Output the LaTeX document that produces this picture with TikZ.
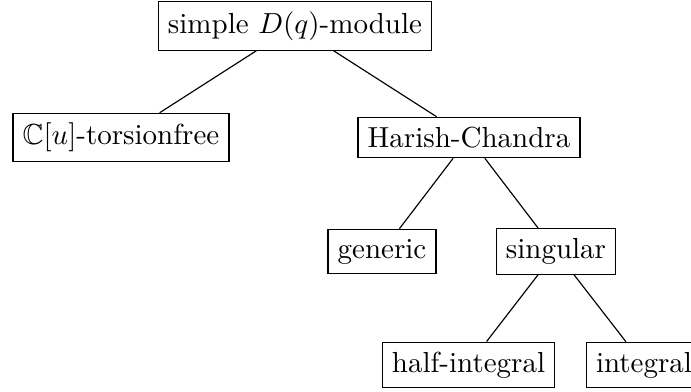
\documentclass[tikz,border=0pt]{standalone}
\usepackage{amsfonts}
\begin{document}
\begin{tikzpicture}[x=0.34483pt,y=-0.34483pt,
  box/.style={draw,rectangle,inner sep=0.3333em}]
\useasboundingbox (0,0) rectangle (691,391);
\node[box] (root) at (295,26) {simple $D(q)$-module};
\node[box] (cu) at (121,137.5) {$\mathbb{C}[u]$-torsionfree};
\node[box] (hc) at (469,137.5) {Harish-Chandra};
\node[box] (gen) at (382,251.5) {generic};
\node[box] (sing) at (556,251.5) {singular};
\node[box] (half) at (468.5,365) {half-integral};
\node[box] (int) at (644,365) {integral};
\draw (root) -- (cu);
\draw (root) -- (hc);
\draw (hc) -- (gen);
\draw (hc) -- (sing);
\draw (sing) -- (half);
\draw (sing) -- (int);
\end{tikzpicture}
\end{document}
